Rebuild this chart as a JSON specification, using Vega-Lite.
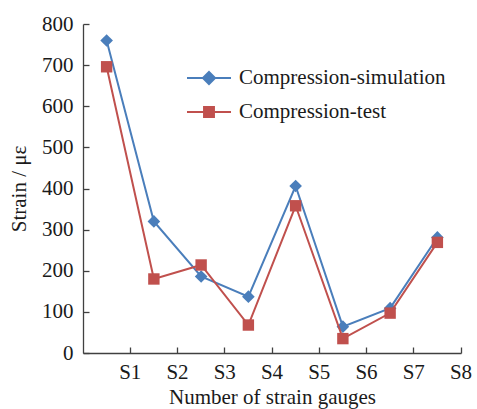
{
  "$schema": "https://vega.github.io/schema/vega-lite/v6.json",
  "width": 378,
  "height": 329,
  "autosize": {"type": "none"},
  "padding": {"left": 83, "top": 24, "right": 16, "bottom": 56},
  "background": "white",
  "config": {
    "font": "Liberation Serif",
    "view": {"stroke": null},
    "axis": {
      "domainColor": "#404040",
      "tickColor": "#404040",
      "labelColor": "#1a1a1a",
      "titleColor": "#1a1a1a",
      "labelFontSize": 21,
      "titleFontSize": 21,
      "titleFontWeight": "normal",
      "grid": false,
      "tickSize": -6,
      "domainWidth": 1.3,
      "tickWidth": 1.3
    }
  },
  "data": {
    "values": [
      {"gauge": "S1", "series": "Compression-simulation", "strain": 760},
      {"gauge": "S2", "series": "Compression-simulation", "strain": 320},
      {"gauge": "S3", "series": "Compression-simulation", "strain": 186},
      {"gauge": "S4", "series": "Compression-simulation", "strain": 137},
      {"gauge": "S5", "series": "Compression-simulation", "strain": 406},
      {"gauge": "S6", "series": "Compression-simulation", "strain": 64},
      {"gauge": "S7", "series": "Compression-simulation", "strain": 109},
      {"gauge": "S8", "series": "Compression-simulation", "strain": 281},
      {"gauge": "S1", "series": "Compression-test", "strain": 696},
      {"gauge": "S2", "series": "Compression-test", "strain": 180},
      {"gauge": "S3", "series": "Compression-test", "strain": 214},
      {"gauge": "S4", "series": "Compression-test", "strain": 68},
      {"gauge": "S5", "series": "Compression-test", "strain": 358},
      {"gauge": "S6", "series": "Compression-test", "strain": 35},
      {"gauge": "S7", "series": "Compression-test", "strain": 97},
      {"gauge": "S8", "series": "Compression-test", "strain": 269}
    ]
  },
  "encoding": {
    "x": {
      "field": "gauge",
      "type": "nominal",
      "sort": null,
      "scale": {"type": "band", "paddingInner": 0, "paddingOuter": 0},
      "axis": {
        "title": "Number of strain gauges",
        "bandPosition": 1,
        "labelAngle": 0,
        "labelOffset": 23.6,
        "labelPadding": 14,
        "titlePadding": 4
      }
    },
    "y": {
      "field": "strain",
      "type": "quantitative",
      "scale": {"domain": [0, 800], "nice": false},
      "axis": {
        "title": "Strain / με",
        "values": [0, 100, 200, 300, 400, 500, 600, 700, 800],
        "labelPadding": 16,
        "titlePadding": 12
      }
    }
  },
  "layer": [
    {
      "transform": [{"filter": "datum.series === 'Compression-simulation'"}],
      "mark": {"type": "line", "strokeWidth": 2, "color": "#4a7ebb"}
    },
    {
      "transform": [{"filter": "datum.series === 'Compression-simulation'"}],
      "mark": {"type": "point", "filled": true, "opacity": 1, "size": 160, "shape": "diamond", "color": "#4a7ebb"}
    },
    {
      "transform": [{"filter": "datum.series === 'Compression-test'"}],
      "mark": {"type": "line", "strokeWidth": 2, "color": "#c0504d"}
    },
    {
      "transform": [{"filter": "datum.series === 'Compression-test'"}],
      "mark": {"type": "point", "filled": true, "opacity": 1, "size": 130, "shape": "square", "color": "#c0504d"}
    },
    {
      "transform": [{"filter": "datum.strain < 0"}],
      "mark": {"type": "point", "filled": true, "opacity": 1},
      "encoding": {
        "fill": {
          "field": "series",
          "type": "nominal",
          "scale": {"domain": ["Compression-simulation", "Compression-test"], "range": ["#4a7ebb", "#c0504d"]},
          "legend": {
            "title": null,
            "orient": "none",
            "legendX": 114,
            "legendY": 42,
            "padding": 0,
            "labelFontSize": 21,
            "labelColor": "#1a1a1a",
            "labelOffset": 18,
            "labelLimit": 400,
            "rowPadding": 11,
            "symbolSize": 484,
            "symbolStrokeWidth": 2,
            "symbolOpacity": 1
          }
        },
        "stroke": {
          "field": "series",
          "type": "nominal",
          "scale": {"domain": ["Compression-simulation", "Compression-test"], "range": ["#4a7ebb", "#c0504d"]},
          "legend": {
            "title": null,
            "orient": "none",
            "legendX": 114,
            "legendY": 42,
            "padding": 0,
            "labelFontSize": 21,
            "labelColor": "#1a1a1a",
            "labelOffset": 18,
            "labelLimit": 400,
            "rowPadding": 11,
            "symbolSize": 484,
            "symbolStrokeWidth": 2,
            "symbolOpacity": 1
          }
        },
        "shape": {
          "field": "series",
          "type": "nominal",
          "scale": {
            "domain": ["Compression-simulation", "Compression-test"],
            "range": ["M-2,0H2M0,-0.55L0.55,0L0,0.55L-0.55,0Z", "M-2,0H2M-0.45,-0.45H0.45V0.45H-0.45Z"]
          },
          "legend": {
            "title": null,
            "orient": "none",
            "legendX": 114,
            "legendY": 42,
            "padding": 0,
            "labelFontSize": 21,
            "labelColor": "#1a1a1a",
            "labelOffset": 18,
            "labelLimit": 400,
            "rowPadding": 11,
            "symbolSize": 484,
            "symbolStrokeWidth": 2,
            "symbolOpacity": 1
          }
        }
      }
    }
  ]
}
